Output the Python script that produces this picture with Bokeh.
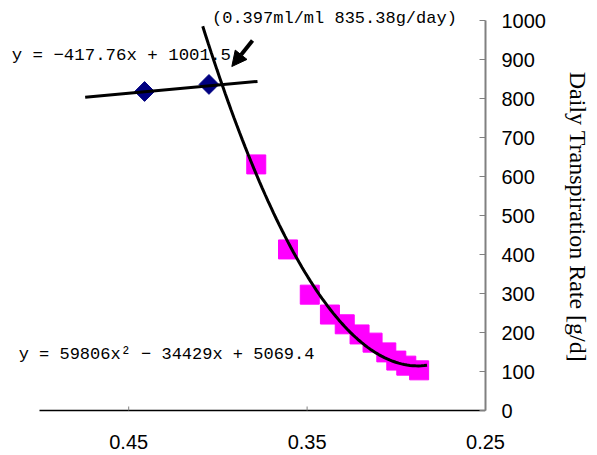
import numpy as np
from bokeh.plotting import figure
from bokeh.models import Range1d, FixedTicker, Label, Arrow, NormalHead
from bokeh.embed import file_html
from bokeh.resources import INLINE

# ---- data ----
vwc_linear = [0.4411, 0.4050]
rate_linear = [818, 836]
vwc_quad = [0.3785, 0.3607, 0.3485, 0.3372, 0.3289, 0.3206, 0.3133, 0.3056, 0.3000, 0.2944, 0.2872]
rate_quad = [631, 413, 297, 246, 221, 195, 174, 149, 128, 115, 103]
lin_coef = [-417.76, 1001.5]            # y = a x + b
quad_coef = [59806.0, -34429.0, 5069.4]  # y = a x^2 + b x + c
lin_span = [0.4744, 0.3778]
quad_span = [0.4085, 0.2828]
x_axis_bounds = [0.25, 0.5]
y_axis_bounds = [0, 1000]
x_ticks = [0.45, 0.35, 0.25]
y_ticks = [0, 100, 200, 300, 400, 500, 600, 700, 800, 900, 1000]
eq_linear = "y = \u2212417.76x + 1001.5"
eq_quad = "y = 59806x\u00b2 \u2212 34429x + 5069.4"
annot_text = "(0.397ml/ml  835.38g/day)"
y_title = "Daily Transpiration Rate [g/d]"
arrow_from = [0.3806, 949]
arrow_to = [0.3922, 882]
eq_linear_pos = [0.5156, 885]
eq_quad_pos = [0.5117, 120]
annot_pos = [0.4033, 982]

# layout: axes box 39..485 px wide, 20..410 px tall; the frame is extended to the
# canvas edges on the left/top/bottom so that the texts are not clipped
W, H = 597, 455
axis_left_px, axis_right_px, axis_top_px, axis_bottom_px = 39, 485, 20, 410
frame_bottom_px = 433
k_x = (x_axis_bounds[1] - x_axis_bounds[0]) / (axis_right_px - axis_left_px)
k_y = (y_axis_bounds[1] - y_axis_bounds[0]) / (axis_bottom_px - axis_top_px)
x_left = x_axis_bounds[1] + axis_left_px * k_x
y_top = y_axis_bounds[1] + axis_top_px * k_y
y_bottom = y_axis_bounds[0] - (frame_bottom_px - axis_bottom_px) * k_y

p = figure(width=W, height=H, output_backend="svg", toolbar_location=None,
           x_range=Range1d(x_left, x_axis_bounds[0]), y_range=Range1d(y_bottom, y_top),
           y_axis_location="right", min_border_left=0, min_border_right=W - axis_right_px,
           min_border_top=0, min_border_bottom=H - frame_bottom_px)
p.grid.visible = False
p.outline_line_color = None
p.background_fill_color = "white"
p.border_fill_color = "white"

# x axis: only its labels come from the axis; line and ticks are drawn at y = 0
xa = p.xaxis[0]
xa.ticker = FixedTicker(ticks=x_ticks)
xa.minor_tick_line_color = None
xa.major_tick_line_color = None
xa.axis_line_color = None
xa.major_tick_in = 0
xa.major_tick_out = 0
xa.major_label_text_font = "Liberation Sans"
xa.major_label_text_font_size = "20px"
xa.major_label_text_color = "black"
xa.major_label_standoff = 1

p.segment(x0=[x_axis_bounds[1]], y0=[y_axis_bounds[0]], x1=[x_axis_bounds[0]], y1=[y_axis_bounds[0]],
          line_color="black", line_width=1.3)
tick_len = 4 * k_y
p.segment(x0=x_ticks, y0=[y_axis_bounds[0]] * len(x_ticks), x1=x_ticks,
          y1=[y_axis_bounds[0] + tick_len] * len(x_ticks), line_color="#808080", line_width=1)

ya = p.yaxis[0]
ya.bounds = tuple(y_axis_bounds)
ya.ticker = FixedTicker(ticks=y_ticks)
ya.minor_tick_line_color = None
ya.major_tick_in = 6
ya.major_tick_out = 0
ya.major_tick_line_color = "#808080"
ya.axis_line_color = "#808080"
ya.axis_line_width = 2
ya.major_label_text_font = "Liberation Sans"
ya.major_label_text_font_size = "20px"
ya.major_label_text_color = "black"
ya.major_label_standoff = 16
ya.axis_label = y_title
ya.axis_label_text_font = "Liberation Serif"
ya.axis_label_text_font_size = "24px"
ya.axis_label_text_font_style = "normal"
ya.axis_label_text_color = "black"
ya.axis_label_standoff = 16

lx = np.array(lin_span)
qx = np.linspace(quad_span[0], quad_span[1], 80)

# markers
p.scatter(vwc_quad, rate_quad, marker="square", size=19, fill_color="#FF00FF", line_color="#FF00FF")
p.scatter(vwc_linear, rate_linear, marker="square", angle=np.pi / 4, size=14,
          fill_color="#000080", line_color="#000080")

# trendlines on top
p.line(qx, quad_coef[0] * qx ** 2 + quad_coef[1] * qx + quad_coef[2], line_color="black", line_width=3)
p.line(lx, lin_coef[0] * lx + lin_coef[1], line_color="black", line_width=3)

# texts
p.add_layout(Label(x=eq_linear_pos[0], y=eq_linear_pos[1], text=eq_linear,
                   text_font="Liberation Mono", text_font_size="17.4px", text_color="black"))
p.add_layout(Label(x=eq_quad_pos[0], y=eq_quad_pos[1], text=eq_quad,
                   text_font="Liberation Mono", text_font_size="17px", text_color="black"))
p.add_layout(Label(x=annot_pos[0], y=annot_pos[1], text=annot_text,
                   text_font="Liberation Mono", text_font_size="17px", text_color="black"))

p.add_layout(Arrow(x_start=arrow_from[0], y_start=arrow_from[1], x_end=arrow_to[0], y_end=arrow_to[1],
                   line_color="black", line_width=4,
                   end=NormalHead(size=15, fill_color="black", line_color="black")))

open("out.html", "w").write(file_html(p, INLINE))
